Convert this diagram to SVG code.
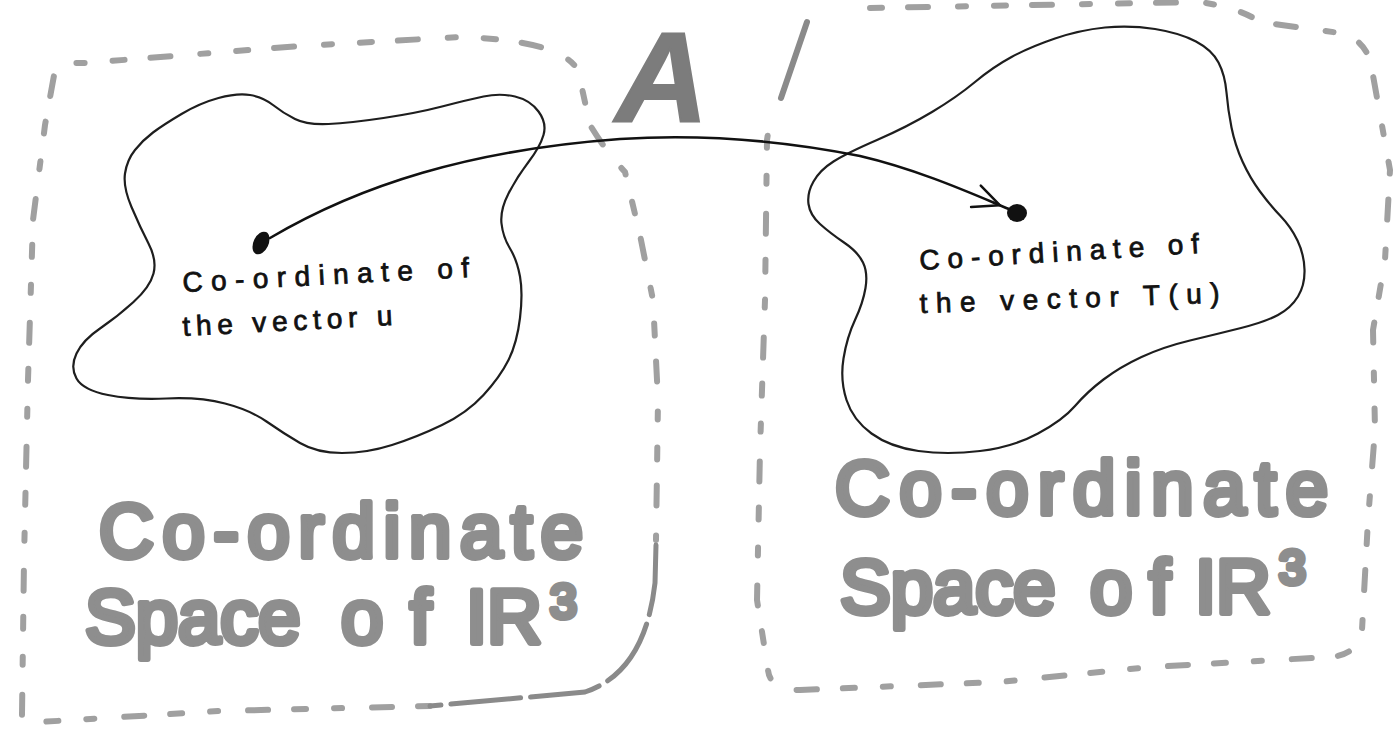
<svg xmlns="http://www.w3.org/2000/svg" width="1397" height="740" viewBox="0 0 1397 740">
<style>
  .dash { fill: none; stroke: #a0a0a0; stroke-width: 6; stroke-linecap: round; stroke-linejoin: round; stroke-dasharray: 12 26 20 30 8 28; }
  .longdash { fill: none; stroke: #8a8a8a; stroke-width: 5; stroke-linecap: round; stroke-dasharray: 70 10; }
  .solidgray { fill: none; stroke: #8a8a8a; stroke-width: 6; stroke-linecap: round; }
  .blob { fill: none; stroke: #1e1e1e; stroke-width: 2.2; stroke-linejoin: round; }
  .big { font-family: "Liberation Sans", "DejaVu Sans", sans-serif; font-size: 76px; fill: #8e8e8e; stroke: #8e8e8e; stroke-width: 6; stroke-linejoin: round; stroke-linecap: round; }
  .sup { font-size: 48px; }
  .small { font-family: "Liberation Sans", "DejaVu Sans", sans-serif; font-size: 28px; fill: #111; stroke: #111; stroke-width: 0.8; }
  .dot { fill: #111; }
  .conn { fill: none; stroke: #111; stroke-width: 2.6; stroke-linecap: round; }
</style>
<defs>
  <marker id="openArrow" markerUnits="userSpaceOnUse" markerWidth="50" markerHeight="50" refX="12" refY="0" viewBox="-40 -25 60 50" orient="auto" overflow="visible">
    <path d="M -30,-13 L 0,0 L -31,15" fill="none" stroke="#111" stroke-width="3" stroke-linecap="round" stroke-linejoin="round"/>
  </marker>
</defs>
<rect width="1397" height="740" fill="#ffffff"/>

<g id="left-space">
  <path class="dash" d="M 430,706 L 220,711 L 40,722 L 22,715 L 24,560 L 28,380 L 33,220 L 45,125 L 55,70 Q 60,62 85,63 L 300,46 L 460,37 Q 560,40 578,70 L 590,125 Q 605,150 625,172 L 640,235 L 653,300 L 658,400 L 656,540"/>
  <path class="longdash" d="M 656,545 L 655,583 Q 645,672 585,692 L 430,706"/>
  <text class="big" x="99" y="557" textLength="484" lengthAdjust="spacing">Co-ordinate</text>
  <text class="big" x="85" y="643">Space</text>
  <text class="big" x="341" y="643" textLength="90" lengthAdjust="spacing">of</text>
  <text class="big" x="466" y="643">IR</text>
  <text class="big sup" x="550" y="618">3</text>
</g>

<g id="left-region">
  <path class="blob" d="M181.5,114 Q200,103 218.5,98 Q237,93 250,95 Q263,97 273,105 Q283,113 295,119 Q307,125 328.5,124 Q350,123 383.5,118 Q417,113 442,106.5 Q467,100 483.5,96.5 Q500,93 515,96.5 Q530,100 538.5,111.5 Q547,123 543.5,135 Q540,147 528.5,162 Q517,177 508.5,193.5 Q500,210 501.5,223.5 Q503,237 510,248.5 Q517,260 520,276.5 Q523,293 520,318 Q517,343 508.5,360 Q500,377 483.5,395 Q467,413 442,425 Q417,437 392,445 Q367,453 342,453 Q317,453 300,443 Q283,433 266.5,421.5 Q250,410 225,403.5 Q200,397 166.5,398.5 Q133,400 108,395 Q83,390 76.5,378.5 Q70,367 76.5,353.5 Q83,340 100,328.5 Q117,317 133.5,302 Q150,287 153.5,273.5 Q157,260 148.5,243.5 Q140,227 131.5,207 Q123,187 125,173.5 Q127,160 135,150 Q143,140 153,132.5 Q163,125 181.5,114 Z"/>
  <ellipse class="dot" cx="261" cy="243" rx="7.5" ry="12" transform="rotate(25 261 243)"/>
  <text class="small" x="183" y="292" textLength="287" lengthAdjust="spacing" transform="rotate(-3 183 292)">Co-ordinate of</text>
  <text class="small" x="183" y="336" textLength="210" lengthAdjust="spacing" transform="rotate(-3 183 336)">the vector u</text>
</g>

<g id="right-space">
  <path class="solidgray" d="M 807,22 L 781,98"/>
  <path class="dash" d="M 870,8 L 1200,2 Q 1240,8 1260,22 L 1340,33 Q 1368,40 1372,70 L 1390,170 L 1385,260 L 1373,330 L 1375,430 L 1368,520 L 1362,630 Q 1358,655 1330,657 L 1150,667 L 1000,682 L 800,690 Q 770,690 768,670 L 757,600 L 760,450 L 765,300 L 767,140 L 770,120"/>
  <text class="big" x="835" y="514" textLength="493" lengthAdjust="spacing">Co-ordinate</text>
  <text class="big" x="840" y="613">Space</text>
  <text class="big" x="1090" y="613" textLength="80" lengthAdjust="spacing">of</text>
  <text class="big" x="1195" y="613">IR</text>
  <text class="big sup" x="1279" y="584">3</text>
</g>

<g id="right-region">
  <path class="blob" d="M877,140 Q907,127 932,112 Q957,97 975,82 Q993,67 1011.5,57 Q1030,47 1055,38.5 Q1080,30 1105,27.5 Q1130,25 1155,29 Q1180,33 1196,41.5 Q1212,50 1218.5,62.5 Q1225,75 1226.5,92.5 Q1228,110 1231.5,127.5 Q1235,145 1242.5,161.5 Q1250,178 1260,191.5 Q1270,205 1280.5,216 Q1291,227 1297.5,240.5 Q1304,254 1304.5,269.5 Q1305,285 1298,296.5 Q1291,308 1278,315 Q1265,322 1241,328 Q1217,334 1190,340.5 Q1163,347 1141.5,357 Q1120,367 1103.5,379.5 Q1087,392 1075,406 Q1063,420 1038,433.5 Q1013,447 980,451 Q947,455 918.5,451 Q890,447 871.5,433.5 Q853,420 846.5,400 Q840,380 843.5,358.5 Q847,337 855,320 Q863,303 865.5,288 Q868,273 863,262.5 Q858,252 844,242.5 Q830,233 820,224 Q810,215 808.5,204 Q807,193 813.5,181.5 Q820,170 833.5,161.5 Q847,153 877,140 Z"/>
  <ellipse class="dot" cx="1017" cy="213" rx="10" ry="9"/>
  <text class="small" x="920" y="270" textLength="280" lengthAdjust="spacing" transform="rotate(-3.5 920 270)">Co-ordinate of</text>
  <text class="small" x="920" y="313" textLength="300" lengthAdjust="spacing" transform="rotate(-2 920 313)">the vector T(u)</text>
</g>

<g id="label-A">
  <text x="662" y="122" text-anchor="middle" font-family="Liberation Sans, DejaVu Sans, sans-serif" font-weight="bold" font-style="italic" font-size="128" fill="#7c7c7c" stroke="#7c7c7c" stroke-width="2">A</text>
</g>

<g id="connectors">
  <path class="conn" d="M 270,238 C 360,185 470,150 620,139 C 700,134 780,140 860,156 C 920,170 975,195 1009,209" marker-end="url(#openArrow)"/>
</g>
</svg>
